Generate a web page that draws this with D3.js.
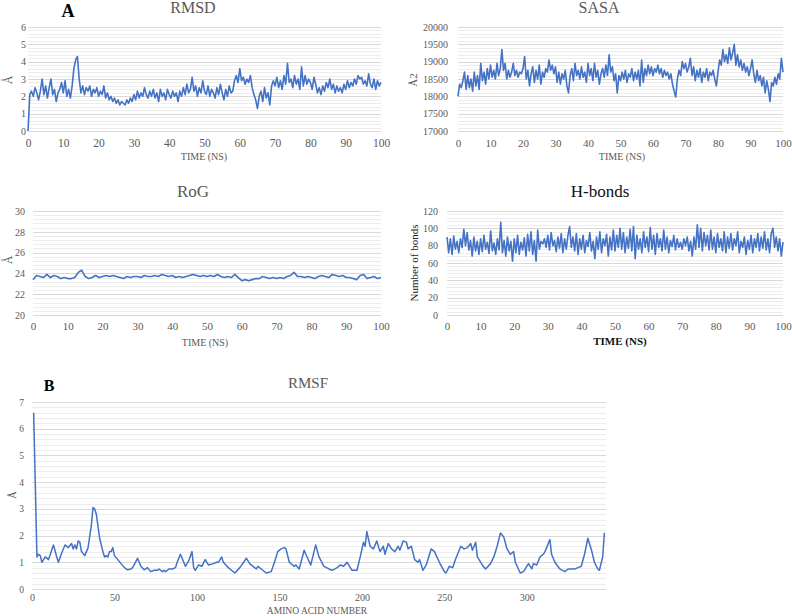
<!DOCTYPE html>
<html><head><meta charset="utf-8">
<script src="https://cdn.jsdelivr.net/npm/d3@7"></script>
<style>body{margin:0;background:#fff}svg{display:block}</style>
</head><body><svg id="c" width="792" height="616"></svg>
<script>
// ---------------- DATA ----------------
const timeTicks = [0,10,20,30,40,50,60,70,80,90,100];

// RMSD (Å), one value every 0.5 ns, 0..100 ns
const rmsdValues = [
0,2.1,2.3,2.0,2.5,2.2,1.8,2.3,3.0,2.1,
2.6,1.9,2.5,3.0,2.1,2.4,1.7,2.2,2.4,2.8,
2.2,2.9,2.0,2.4,1.9,2.6,3.6,4.1,4.3,3.0,
2.2,2.6,2.1,2.5,2.3,2.6,2.0,2.4,2.2,2.5,
2.0,2.3,2.1,2.6,1.9,2.2,1.8,2.0,1.7,1.9,
1.6,1.8,1.5,1.7,1.6,1.5,1.8,1.6,1.9,1.7,
2.1,1.8,2.3,1.9,2.2,2.0,2.5,2.1,1.9,2.3,
2.0,2.4,1.9,2.2,1.7,2.4,2.0,2.2,1.8,2.4,
2.1,1.9,2.3,2.0,2.2,1.7,2.3,2.0,2.5,2.1,
2.7,2.2,2.4,3.1,2.3,2.6,2.0,2.5,2.2,2.9,
2.3,2.1,2.6,2.0,2.4,2.2,1.9,2.5,2.1,2.7,
2.2,1.8,2.4,2.0,2.6,2.2,2.3,2.9,3.2,2.8,
3.6,2.9,3.1,2.7,3.0,2.8,3.2,2.5,2.1,1.8,
1.3,2.0,2.3,1.7,2.5,1.9,2.2,1.5,2.6,2.9,
2.6,3.1,2.5,2.9,2.4,3.2,2.7,3.9,2.8,3.0,
2.5,3.2,2.7,3.0,2.4,3.7,2.6,3.2,2.7,3.0,
2.8,2.4,3.1,2.7,2.2,2.5,2.1,2.6,2.3,2.8,
2.5,3.0,2.4,2.7,2.2,2.6,2.3,2.5,2.2,2.7,
2.4,2.9,2.5,2.8,2.6,3.0,2.7,3.2,3.0,3.1,
2.7,2.9,2.6,3.3,2.7,2.5,3.0,2.4,2.9,2.6,
2.8];
const rmsdTicks = [0,1,2,3,4,5,6];

// SASA (Å2), one value every 0.5 ns
const sasaValues = [
18000,18350,18250,18450,18700,18200,18600,18250,18500,18150,
18700,18300,18600,18200,18950,18450,18700,18350,18800,18500,
18900,18550,18750,18500,18950,18600,18800,19350,18750,18950,
18500,18750,18550,18700,18950,18600,18750,18550,18700,18650,
18800,19150,18500,18750,18300,18650,18850,18400,18750,18500,
18900,18350,18700,18550,18800,18700,19050,18750,18900,18650,
18850,18400,18700,18350,18650,18500,18750,18300,18100,18600,
18800,18450,18950,18600,18750,18500,18850,18550,18700,18400,
18950,18600,18800,18450,18950,18550,18750,18350,18650,18800,
18550,18900,18600,19200,18700,18850,18450,18650,18100,18600,
18450,18700,18500,18750,18400,18650,18550,18800,18450,18700,
18500,18750,18300,19050,18400,18800,18600,18900,18650,18850,
18600,18800,18700,18900,18650,18800,18550,18750,18600,18700,
18500,18650,18350,18150,17980,18500,18750,18600,19000,18800,
18950,18700,18850,19100,18600,18850,18450,18750,18550,18800,
18400,18700,18550,18800,18450,18700,18600,18750,18500,18300,
18700,19050,18900,19350,19000,19200,18950,19400,19050,19250,
19500,18900,19200,18850,19050,18750,18950,18700,18850,18600,
18800,19050,18650,18400,18750,18450,18600,18300,18550,18100,
18450,18200,17850,18400,18300,18550,18350,18650,18500,19100,
18700];
const sasaTicks = [17000,17500,18000,18500,19000,19500,20000];

// RoG (Å), one value every 1 ns
const rogValues = [
23.4,23.8,23.7,23.6,23.9,23.6,23.8,23.7,23.5,23.6,
23.5,23.5,23.6,24.1,24.3,23.7,23.5,23.6,23.8,23.6,
23.7,23.8,23.7,23.8,23.7,23.6,23.5,23.7,23.6,23.7,
23.7,23.6,23.8,23.7,23.7,23.8,23.7,23.9,23.8,23.7,
23.8,23.6,23.7,23.6,23.7,23.8,23.9,23.8,23.7,23.8,
23.7,23.8,23.7,23.9,23.7,23.6,23.7,23.6,23.9,23.6,
23.3,23.4,23.3,23.4,23.5,23.5,23.7,23.6,23.5,23.6,
23.5,23.6,23.5,23.7,23.8,24.1,23.7,23.7,23.6,23.7,
23.6,23.5,23.7,23.8,23.7,23.6,23.9,23.8,23.7,23.8,
23.6,23.6,23.5,23.4,23.8,23.9,23.5,23.6,23.7,23.5,
23.6];
const rogTicks = [20,22,24,26,28,30];

// H-bonds (count), one value every 0.5 ns
const hbondValues = [
90,72,88,70,91,76,85,72,88,78,
99,80,95,75,86,68,90,74,85,70,
88,73,92,76,84,71,97,74,83,70,
88,75,107,72,86,68,90,74,85,62,
88,72,92,70,84,75,89,68,93,74,
96,70,86,62,98,76,85,82,88,78,
92,75,95,80,86,73,90,77,94,72,
88,76,92,102,78,90,74,94,70,88,
76,92,72,86,79,95,74,85,65,90,
76,96,72,88,80,93,68,90,75,98,
74,92,78,100,76,95,72,90,77,99,
74,102,65,92,76,88,72,96,78,90,
73,101,76,92,70,94,78,88,74,98,
76,90,72,86,79,92,75,88,78,84,
76,88,80,90,74,85,68,90,76,104,
78,100,74,95,80,92,75,98,76,90,
72,94,78,88,74,96,72,90,77,94,
75,88,80,96,72,85,78,90,70,86,
76,92,72,88,78,94,74,90,77,96,
75,88,72,94,100,78,90,74,88,68,
84];
const hbondTicks = [0,20,40,60,80,100,120];

// RMSF (Å) per residue
const rmsfResidues = [
1,3,4,5,6,8,10,13,15,16,18,20,22,24,25,26,27,28,29,30,
32,34,36,37,38,39,41,43,44,45,46,47,48,49,50,52,54,56,58,60,
61,64,66,68,70,72,74,76,77,79,80,81,83,85,87,88,90,92,93,95,
97,98,99,101,103,105,107,110,112,113,115,116,119,123,126,130,132,134,136,137,
139,142,145,147,149,151,153,154,156,159,160,162,165,166,169,172,174,177,180,182,
185,187,189,191,192,194,197,199,201,202,203,205,207,209,211,213,214,216,218,220,
222,223,225,227,228,230,232,234,235,237,239,242,244,247,250,251,253,255,257,260,
262,264,266,267,269,270,273,275,278,280,282,284,286,288,290,292,293,296,298,300,
301,303,304,306,308,310,311,313,314,315,317,320,323,325,327,329,331,333,335,337,
339,341,343,344,346,347];
const rmsfValues = [
6.6,1.2,1.3,1.25,1.0,1.2,1.1,1.65,1.2,1.0,1.35,1.65,1.55,1.7,1.5,1.65,1.5,1.8,1.75,1.4,
1.25,1.55,2.4,3.05,3.0,2.8,1.9,1.4,1.2,1.25,1.2,1.4,1.4,1.55,1.25,1.1,0.95,0.8,0.72,0.75,
0.8,1.15,0.85,0.72,0.8,0.65,0.7,0.7,0.75,0.65,0.7,0.65,0.75,0.75,0.8,1.0,1.3,1.0,0.85,1.05,
1.4,0.8,0.7,0.9,0.85,1.1,0.9,0.95,1.0,1.0,1.2,1.0,0.8,0.6,0.8,1.15,0.95,0.85,0.75,0.85,
0.75,0.6,0.65,1.0,1.4,1.5,1.55,1.5,1.0,0.85,0.9,0.75,1.45,1.3,0.9,1.65,1.2,0.85,0.75,0.7,
0.8,0.9,0.85,1.0,0.9,0.7,0.7,1.2,1.75,1.6,2.15,1.6,1.5,1.8,1.4,1.6,1.3,1.7,1.5,1.4,
1.6,1.45,1.8,1.75,1.5,1.6,1.1,1.0,1.1,0.7,0.9,1.5,1.4,1.0,0.65,0.6,0.85,0.8,1.15,1.6,
1.5,1.55,1.7,1.45,1.75,1.2,0.9,0.75,0.95,1.2,1.6,2.1,1.95,1.5,1.3,1.4,1.0,0.6,0.65,0.85,
0.95,0.75,0.95,0.9,1.2,1.3,1.4,1.7,1.85,1.3,1.0,0.75,0.65,0.75,0.75,0.75,0.8,0.85,1.3,1.9,
1.5,1.0,0.75,0.7,1.2,2.1];
const rmsfXTicks = [0,50,100,150,200,250,300];
const rmsfYTicks = [0,1,2,3,4,5,6,7];

// ---------------- DRAWING ----------------
const svg = d3.select('#c');
const FONT = '"Liberation Serif","Times New Roman",serif';
const GREY = '#595959';
const BLUE = '#4472c4';
const fmt = d3.format('d');

function panel(o){
  const x = d3.scaleLinear().domain(o.xDomain).range([o.x0, o.x1]);
  const y = d3.scaleLinear().domain(o.yDomain).range([o.yb, o.yt]);
  const g = svg.append('g');
  const step = (o.yTicks[1] - o.yTicks[0]) / 5;
  const minor = d3.range(o.yDomain[0], o.yDomain[1] + step / 2, step);
  g.append('g').selectAll('line').data(minor).join('line')
    .attr('x1', o.x0).attr('x2', o.x1)
    .attr('y1', d => Math.round(y(d)) + 0.5).attr('y2', d => Math.round(y(d)) + 0.5)
    .attr('stroke', '#ededed').attr('stroke-width', 1);
  g.append('g').selectAll('line').data(o.yTicks).join('line')
    .attr('x1', o.x0).attr('x2', o.x1)
    .attr('y1', d => Math.round(y(d)) + 0.5).attr('y2', d => Math.round(y(d)) + 0.5)
    .attr('stroke', '#d9d9d9').attr('stroke-width', 1.2);

  const line = d3.line().x((d, i) => x(o.xs[i])).y(d => y(d));
  g.append('path').datum(o.ys).attr('d', line)
    .attr('fill', 'none').attr('stroke', BLUE).attr('stroke-width', o.lw || 1.6)
    .attr('stroke-linejoin', 'round');

  const ya = g.append('g').attr('transform', `translate(${o.yLabelX},0)`)
    .call(d3.axisLeft(y).tickValues(o.yTicks).tickFormat(fmt).tickSize(0).tickPadding(0));
  ya.attr('font-family', FONT);
  ya.select('.domain').remove();
  ya.selectAll('text').attr('font-family', FONT).attr('font-size', o.yFont).attr('fill', GREY);

  const xa = g.append('g').attr('transform', `translate(0,${o.xLabelY})`)
    .call(d3.axisBottom(x).tickValues(o.xTicks).tickFormat(fmt).tickSize(0).tickPadding(0));
  xa.attr('font-family', FONT);
  xa.select('.domain').remove();
  xa.selectAll('text').attr('font-family', FONT).attr('font-size', o.xFont).attr('fill', GREY);

  g.append('text').attr('x', o.title.x).attr('y', o.title.y).attr('text-anchor', 'middle')
    .attr('font-family', FONT).attr('font-size', o.title.size).attr('fill', o.title.color || GREY)
    .text(o.title.text);
  g.append('text').attr('x', o.xt.x).attr('y', o.xt.y).attr('text-anchor', 'middle')
    .attr('font-family', FONT).attr('font-size', o.xt.size).attr('fill', o.xt.color || GREY)
    .attr('font-weight', o.xt.weight || 'normal')
    .text(o.xt.text);
  g.append('text').attr('transform', `translate(${o.yt2.x},${o.yt2.y}) rotate(-90)`)
    .attr('text-anchor', 'middle').attr('font-family', FONT).attr('font-size', o.yt2.size)
    .attr('fill', o.yt2.color || GREY).text(o.yt2.text);
}

const t05 = rmsdValues.map((d, i) => i * 100 / (rmsdValues.length - 1));
const tS = sasaValues.map((d, i) => i * 100 / (sasaValues.length - 1));
const tR = rogValues.map((d, i) => i * 100 / (rogValues.length - 1));
const tH = hbondValues.map((d, i) => i * 100 / (hbondValues.length - 1));

panel({xs: t05, ys: rmsdValues, xDomain: [0,100], yDomain: [0,6],
  x0: 28, x1: 381, yb: 131, yt: 27, xTicks: timeTicks, yTicks: rmsdTicks,
  yLabelX: 26, xLabelY: 139, yFont: 10, xFont: 11.5,
  title: {text: 'RMSD', x: 193, y: 13, size: 16},
  xt: {text: 'TIME (NS)', x: 204, y: 160, size: 10},
  yt2: {text: 'Å', x: 12, y: 80, size: 12}});

panel({xs: tS, ys: sasaValues, xDomain: [0,100], yDomain: [17000,20000],
  x0: 458, x1: 783, yb: 131, yt: 27, xTicks: timeTicks, yTicks: sasaTicks,
  yLabelX: 448, xLabelY: 139, yFont: 10, xFont: 11,
  title: {text: 'SASA', x: 599, y: 13, size: 16},
  xt: {text: 'TIME (NS)', x: 622, y: 160, size: 10},
  yt2: {text: 'Å2', x: 417, y: 80, size: 11}});

panel({xs: tR, ys: rogValues, xDomain: [0,100], yDomain: [20,30],
  x0: 33, x1: 381, yb: 315, yt: 211, xTicks: timeTicks, yTicks: rogTicks,
  yLabelX: 25, xLabelY: 322, yFont: 10, xFont: 11,
  title: {text: 'RoG', x: 193, y: 197, size: 17},
  xt: {text: 'TIME (NS)', x: 205, y: 346, size: 10},
  yt2: {text: 'Å', x: 12, y: 260, size: 12}});

panel({xs: tH, ys: hbondValues, xDomain: [0,100], yDomain: [0,120],
  x0: 447, x1: 783, yb: 315, yt: 211, xTicks: timeTicks, yTicks: hbondTicks,
  yLabelX: 438, xLabelY: 322, yFont: 10, xFont: 11,
  title: {text: 'H-bonds', x: 600, y: 197, size: 17, color: '#111'},
  xt: {text: 'TIME (NS)', x: 620, y: 345, size: 11, color: '#111', weight: 'bold'},
  yt2: {text: 'Number of bonds', x: 418, y: 263, size: 11, color: '#222'}});

panel({xs: rmsfResidues, ys: rmsfValues, xDomain: [0,348], yDomain: [0,7],
  x0: 32, x1: 606, yb: 589, yt: 402, xTicks: rmsfXTicks, yTicks: rmsfYTicks,
  yLabelX: 24, xLabelY: 594, yFont: 9.5, xFont: 10, lw: 1.5,
  title: {text: 'RMSF', x: 308, y: 388, size: 15},
  xt: {text: 'AMINO ACID NUMBER', x: 317, y: 614, size: 9.5},
  yt2: {text: 'Å', x: 16, y: 495, size: 11}});

svg.append('text').attr('x', 68).attr('y', 17).attr('text-anchor', 'middle')
  .attr('font-family', FONT).attr('font-size', 18).attr('font-weight', 'bold').attr('fill', '#000').text('A');
svg.append('text').attr('x', 49).attr('y', 391).attr('text-anchor', 'middle')
  .attr('font-family', FONT).attr('font-size', 16).attr('font-weight', 'bold').attr('fill', '#000').text('B');
</script></body></html>
